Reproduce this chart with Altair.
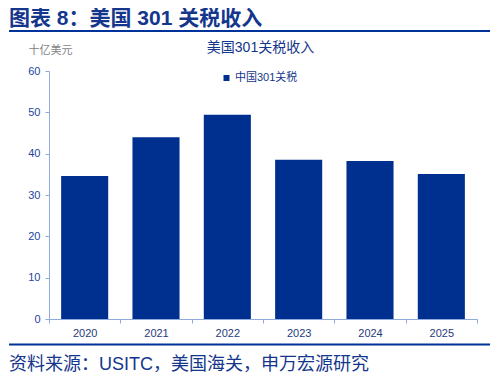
import altair as alt
import pandas as pd

years = ["2020", "2021", "2022", "2023", "2024", "2025"]
values = [34.6, 44.0, 49.4, 38.5, 38.2, 35.1]
series_name = "中国301关税"

header = "图表 8：美国 301 关税收入"
subtitle = "美国301关税收入"
unit = "十亿美元"
footer = "资料来源：USITC，美国海关，申万宏源研究"

FONT = "Liberation Sans, Arial, Noto Sans CJK SC"
BAR = "#00308F"
NAVY = "#14368C"
AXIS = "#8FAADC"
LABEL = "#2444A0"

df = pd.DataFrame({"year": years, "value": values, "series": [series_name] * len(years)})

bars = alt.Chart(df).mark_bar(width=alt.RelativeBandSize(0.66)).encode(
    x=alt.X("year:N", sort=years,
            scale=alt.Scale(paddingInner=0, paddingOuter=0),
            axis=alt.Axis(title=None, labelAngle=0, tickBand="extent", tickSize=4,
                          labelPadding=4, labelFontSize=11, labelFont=FONT,
                          labelColor="#1F3A7A", domainColor=AXIS, tickColor=AXIS)),
    y=alt.Y("value:Q", scale=alt.Scale(domain=[0, 60], nice=False),
            axis=alt.Axis(values=[0, 10, 20, 30, 40, 50, 60], grid=False, tickSize=4,
                          labelPadding=5, labelFontSize=11, labelFont=FONT,
                          labelColor=LABEL, domainColor=AXIS, tickColor=AXIS,
                          title=unit, titleAngle=0, titleX=-21, titleY=-20.5,
                          titleAlign="left", titleBaseline="middle",
                          titleColor="#7F7F7F", titleFontWeight="normal",
                          titleFontSize=11, titleFont=FONT)),
    color=alt.Color("series:N", scale=alt.Scale(range=[BAR]),
                    legend=alt.Legend(title=None, orient="none", legendX=172, legendY=1.5,
                                      symbolType="square", symbolSize=36,
                                      symbolStrokeWidth=0, labelFontSize=11,
                                      labelFont=FONT, labelColor=NAVY,
                                      labelOffset=3, padding=0)),
)


def text_layer(t, x, y, size, weight="normal", align="left", color=NAVY):
    return alt.Chart(alt.Data(values=[{"t": t}])).mark_text(
        align=align, baseline="middle", fontSize=size, fontWeight=weight,
        font=FONT, color=color
    ).encode(x=alt.value(x), y=alt.value(y), text="t:N")


def rule_layer(x1, x2, y):
    return alt.Chart(alt.Data(values=[{"a": 1}])).mark_rule(
        color="#003399", strokeWidth=2
    ).encode(x=alt.value(x1), x2=alt.value(x2), y=alt.value(y))


chart = alt.layer(
    bars,
    text_layer(header, -40, -52, 21, weight="bold"),
    rule_layer(-40, 442, -40),
    text_layer(subtitle, 211.5, -23.5, 14, align="center"),
    rule_layer(-40, 442, 273.5),
    text_layer(footer, -40, 294, 18),
).properties(
    width=428, height=248,
    autosize=alt.AutoSizeParams(type="none"),
    padding={"left": 41, "top": 63, "right": 13, "bottom": 56},
).configure_view(stroke=None)

chart.save("out.html", embed_options={"renderer": "svg", "actions": False})
